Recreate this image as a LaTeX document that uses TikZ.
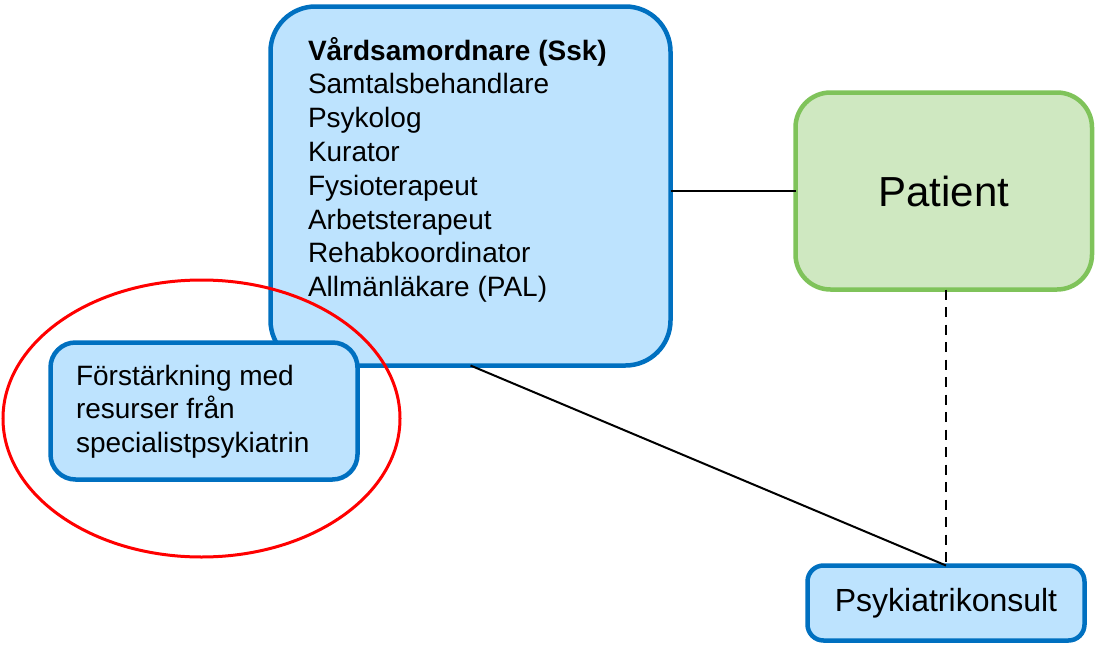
\documentclass[tikz,border=0pt]{standalone}
\usepackage{fontspec}
\setmainfont{Liberation Sans}
\usetikzlibrary{shapes.geometric}
\definecolor{boxblue}{HTML}{0070C0}
\definecolor{fillblue}{HTML}{BDE3FE}
\definecolor{boxgreen}{HTML}{7FC35A}
\definecolor{fillgreen}{HTML}{CFE8C1}
\tikzset{
  bluebox/.style={draw=boxblue, fill=fillblue, line width=4.5pt, rounded corners=#1, inner sep=0pt, outer sep=0pt},
  greenbox/.style={draw=boxgreen, fill=fillgreen, line width=4.5pt, rounded corners=#1, inner sep=0pt, outer sep=0pt},
  conn/.style={draw=black, line width=2pt},
  dashconn/.style={draw=black, line width=2pt, dash pattern=on 10pt off 7.5pt},
  txt/.style={anchor=base west, inner sep=0pt, outer sep=0pt}
}
\begin{document}
\begin{tikzpicture}[x=1pt, y=-1pt]
\useasboundingbox (0,0) rectangle (1095,645);
% main box
\node[bluebox=45pt, minimum width=400pt, minimum height=359pt] (main) at (470.5,186) {};
\node[txt] (maintext) at (308,60) {\fontsize{28}{33.8}\selectfont\begin{tabular}[t]{@{}l@{}}
\textbf{Vårdsamordnare (Ssk)}\\
Samtalsbehandlare\\
Psykolog\\
Kurator\\
Fysioterapeut\\
Arbetsterapeut\\
Rehabkoordinator\\
Allmänläkare (PAL)
\end{tabular}};
% reinforcement box
\node[bluebox=25pt, minimum width=307pt, minimum height=137pt] (forst) at (204,411) {};
\node[txt] (forsttext) at (76,385) {\fontsize{28}{33.5}\selectfont\begin{tabular}[t]{@{}l@{}}
Förstärkning med\\
resurser från\\
specialistpsykiatrin
\end{tabular}};
% patient
\node[greenbox=35pt, minimum width=296.5pt, minimum height=197pt, font=\fontsize{42}{50}\selectfont] (patient) at (943.75,191) {Patient};
% psykiatrikonsult
\node[bluebox=16pt, minimum width=277pt, minimum height=75pt, font=\fontsize{32}{38}\selectfont] (psyk) at (946,603) {Psykiatrikonsult};
% connectors
\draw[conn] (main.east |- patient.west) -- (patient.west);
\draw[conn] (main.south) -- (psyk.north);
\draw[dashconn] (patient.south -| psyk.north) -- (psyk.north);
% red ring
\node[draw=red, line width=3pt, ellipse, minimum width=397pt, minimum height=277pt, inner sep=0pt] (ring) at (201.5,418.5) {};
\end{tikzpicture}
\end{document}
